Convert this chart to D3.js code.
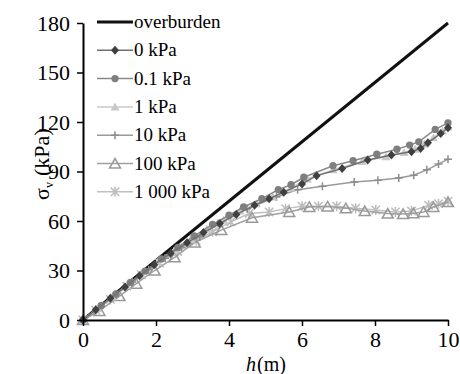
<!DOCTYPE html>
<html>
<head>
<meta charset="utf-8">
<script src="https://cdn.jsdelivr.net/npm/d3@7"></script>
</head>
<body style="margin:0">
<script>
// tick values
const xTicks = [0, 2, 4, 6, 8, 10];
const yTicks = [0, 30, 60, 90, 120, 150, 180];

// overburden stress line
const hOver = [0, 10];
const vOver = [0, 180];

// 0 kPa
const h0 = [0, 0.35, 0.75, 1.15, 1.55, 1.95, 2.4, 2.85, 3.3, 3.75, 4.2, 4.7, 5.1, 5.5, 6.0, 6.4, 7.1, 7.8, 8.45, 9.0, 9.25, 9.45, 9.8, 10];
const v0 = [0, 6.2, 13.2, 20, 26.8, 33.5, 40.5, 46.8, 53, 58.5, 64, 69.5, 73.5, 77.5, 82.5, 87.5, 91.8, 97, 100, 102, 104, 107.5, 113, 116.5];

// 0.1 kPa
const h01 = [0, 0.5, 0.9, 1.3, 1.7, 2.15, 2.6, 3.05, 3.55, 4.0, 4.4, 4.9, 5.35, 5.7, 6.05, 6.85, 7.4, 8.05, 8.6, 8.95, 9.2, 9.65, 10];
const v01 = [0, 8.8, 15.8, 22.8, 29.6, 37, 44, 51, 58, 63.5, 68.5, 73.5, 79, 82, 86.5, 93.5, 96.5, 100.5, 103.5, 106, 108, 115.5, 119.5];

// 1 kPa
const h1 = [0, 0.4, 0.8, 1.2, 1.6, 2.05, 2.5, 2.95, 3.4, 3.85, 4.3, 4.75, 5.2, 5.7, 6.15, 6.85, 7.65, 8.3, 8.8, 9.1, 9.35, 9.6, 9.85, 10];
const v1 = [0, 7, 14, 21, 27.8, 35.2, 42, 48.8, 55, 60.5, 66, 70.5, 74.5, 80, 85.5, 91, 96, 99, 101.5, 103.5, 106.5, 110.5, 114.5, 117];

// 10 kPa
const h10 = [0, 0.45, 0.9, 1.35, 1.8, 2.25, 2.7, 3.2, 3.7, 4.5, 5.3, 5.88, 6.56, 7.43, 8.08, 8.65, 9.06, 9.42, 9.74, 10];
const v10 = [0, 7.8, 15.5, 23, 30.5, 37.5, 44, 50.5, 58.5, 67.5, 74.5, 79, 81, 83.7, 84.7, 86, 87.7, 91, 94.5, 97.5];

// 100 kPa
const h100 = [0, 0.45, 1.0, 1.46, 1.96, 2.51, 3.06, 3.79, 4.63, 5.65, 6.2, 6.7, 7.2, 7.72, 8.35, 8.77, 9.05, 9.33, 9.6, 10];
const v100 = [0, 5.5, 14.5, 22, 30, 38, 47, 54.5, 62, 65.5, 68.5, 68.8, 67.8, 66, 64.5, 64.3, 64.7, 65.5, 68.5, 71.5];

// 1 000 kPa
const h1000 = [0, 0.35, 0.75, 1.2, 1.6, 2.1, 2.6, 3.1, 3.55, 4.05, 4.55, 5.1, 5.55, 6.0, 6.45, 6.95, 7.47, 8.02, 8.56, 9.0, 9.47, 9.74, 10];
const v1000 = [0, 6, 12.5, 20.5, 27.5, 34.5, 41.5, 48, 53.5, 59.5, 64.5, 65.5, 67.5, 68.9, 69, 69, 67.8, 66.7, 65.5, 66, 69.5, 70.5, 72];

const labels = ["overburden", "0 kPa", "0.1 kPa", "1 kPa", "10 kPa", "100 kPa", "1 000 kPa"];

const zip = (hs, vs) => hs.map((h, i) => ({ h, v: vs[i] }));

const series = [
  { name: labels[1], pts: zip(h0, v0), line: "#707070", fill: "#404040", stroke: "none", marker: "diamond" },
  { name: labels[2], pts: zip(h01, v01), line: "#8a8a8a", fill: "#7f7f7f", stroke: "none", marker: "circle" },
  { name: labels[3], pts: zip(h1, v1), line: "#c8c8c8", fill: "#c8c8c8", stroke: "none", marker: "triangle" },
  { name: labels[4], pts: zip(h10, v10), line: "#9a9a9a", fill: "none", stroke: "#8c8c8c", marker: "plus" },
  { name: labels[5], pts: zip(h100, v100), line: "#a0a0a0", fill: "none", stroke: "#999999", marker: "otri" },
  { name: labels[6], pts: zip(h1000, v1000), line: "#c0c0c0", fill: "none", stroke: "#bcbcbc", marker: "star" },
];

const W = 460, H = 374;
const margin = { left: 83, right: 12, top: 23, bottom: 54 };
const SERIF = '"Liberation Serif"';

const svg = d3.select("body").append("svg").attr("width", W).attr("height", H);

const x = d3.scaleLinear().domain([0, 10]).range([margin.left, W - margin.right]);
const y = d3.scaleLinear().domain([0, 180]).range([H - margin.bottom, margin.top]);

// marker paths
function markerPath(type) {
  switch (type) {
    case "diamond": return "M0,-4.5L4,0L0,4.5L-4,0Z";
    case "circle": return d3.symbol(d3.symbolCircle, 42)();
    case "triangle": return "M0,-4.5L4.5,3.5L-4.5,3.5Z";
    case "plus": return "M-4,0H4M0,-4V4";
    case "otri": return "M0,-5L5.5,4.5L-5.5,4.5Z";
    case "star": return "M0,-5V5M-4.2,-4.2L4.2,4.2M-4.2,4.2L4.2,-4.2";
  }
}

const line = d3.line().x((d) => x(d.h)).y((d) => y(d.v));

// overburden
svg.append("path")
  .datum(zip(hOver, vOver))
  .attr("d", line)
  .attr("fill", "none")
  .attr("stroke", "#111")
  .attr("stroke-width", 3);

// series, back to front
[5, 4, 3, 2, 1, 0].forEach((k) => {
  const s = series[k];
  svg.append("path")
    .datum(s.pts)
    .attr("d", line)
    .attr("fill", "none")
    .attr("stroke", s.line)
    .attr("stroke-width", 1.5);
  svg.selectAll(null)
    .data(s.pts)
    .join("path")
    .attr("transform", (d) => `translate(${x(d.h)},${y(d.v)})`)
    .attr("d", markerPath(s.marker))
    .attr("fill", s.fill)
    .attr("stroke", s.stroke)
    .attr("stroke-width", 1.5);
});

// axes
const xg = svg.append("g")
  .attr("transform", `translate(0,${H - margin.bottom})`)
  .call(d3.axisBottom(x).tickValues(xTicks).tickSize(6).tickSizeOuter(0));
const yg = svg.append("g")
  .attr("transform", `translate(${margin.left},0)`)
  .call(d3.axisLeft(y).tickValues(yTicks).tickSize(6).tickSizeOuter(0));

xg.select(".domain").attr("stroke-width", 2);
yg.select(".domain").attr("stroke-width", 2);
xg.selectAll(".tick line").attr("stroke-width", 1.5);
yg.selectAll(".tick line").attr("stroke-width", 1.5);
xg.selectAll(".tick text")
  .style("font-family", SERIF).style("font-size", "22px")
  .attr("y", 6).attr("dy", "0.95em");
yg.selectAll(".tick text")
  .style("font-family", SERIF).style("font-size", "22px")
  .attr("x", -13).attr("dy", "0.34em");

// x title: h (m)
svg.append("text")
  .attr("x", 246).attr("y", 371)
  .style("font-family", SERIF).style("font-size", "20px").style("font-style", "italic")
  .text("h");
svg.append("text")
  .attr("x", 257).attr("y", 371)
  .style("font-family", SERIF).style("font-size", "20px")
  .text("(m)");

// y title: σv (kPa), rotated
const yt = svg.append("g").attr("transform", "translate(49,200) rotate(-90)");
yt.append("text").attr("x", 0).attr("y", 0)
  .style("font-family", SERIF).style("font-size", "22px").text("σ");
yt.append("text").attr("x", 12).attr("y", 4)
  .style("font-family", SERIF).style("font-size", "12px").text("v");
yt.append("text").attr("x", 24).attr("y", 0)
  .style("font-family", SERIF).style("font-size", "22px").text("(kPa)");

// legend
const legendItems = [{ name: labels[0], over: true }].concat(series);
legendItems.forEach((s, i) => {
  const gy = 22 + i * 28.3;
  if (s.over) {
    svg.append("line").attr("x1", 97).attr("x2", 133).attr("y1", gy).attr("y2", gy)
      .attr("stroke", "#111").attr("stroke-width", 3);
  } else {
    svg.append("line").attr("x1", 97).attr("x2", 133).attr("y1", gy).attr("y2", gy)
      .attr("stroke", s.line).attr("stroke-width", 1.5);
    svg.append("path")
      .attr("transform", `translate(115,${gy})`)
      .attr("d", markerPath(s.marker))
      .attr("fill", s.fill)
      .attr("stroke", s.stroke)
      .attr("stroke-width", 1.5);
  }
  svg.append("text")
    .attr("x", 134).attr("y", gy + 6)
    .style("font-family", SERIF).style("font-size", "19px")
    .text(s.name);
});
</script>
</body>
</html>
